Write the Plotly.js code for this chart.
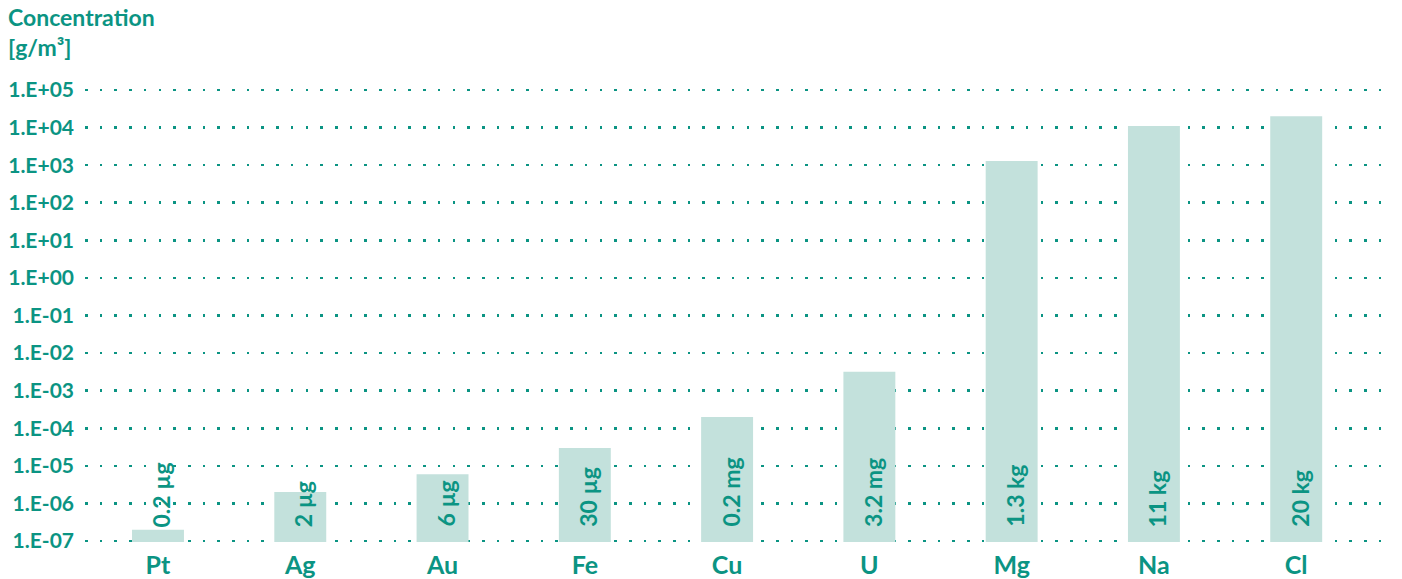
<!DOCTYPE html>
<html>
<head>
<meta charset="utf-8">
<script src="https://cdn.plot.ly/plotly-3.0.1.min.js"></script>
<style>
  html, body { margin: 0; padding: 0; background: #ffffff; }
  #chart { width: 1402px; height: 579px; }
</style>
</head>
<body>
<div id="chart"></div>
<script>
// Dissolved element concentration in seawater, grams per cubic metre
const elements = ['Pt', 'Ag', 'Au', 'Fe', 'Cu', 'U', 'Mg', 'Na', 'Cl'];
const concentrations = [2e-7, 2e-6, 6e-6, 3e-5, 2e-4, 3.2e-3, 1.3e3, 1.1e4, 2e4];
const amountLabels = ['0.2 µg', '2 µg', '6 µg', '30 µg', '0.2 mg', '3.2 mg', '1.3 kg', '11 kg', '20 kg'];

const tickValues = [1e-7, 1e-6, 1e-5, 1e-4, 1e-3, 1e-2, 1e-1, 1e0, 1e1, 1e2, 1e3, 1e4, 1e5];
const tickLabels = ['1.E-07', '1.E-06', '1.E-05', '1.E-04', '1.E-03', '1.E-02', '1.E-01',
                    '1.E+00', '1.E+01', '1.E+02', '1.E+03', '1.E+04', '1.E+05'];

const axisTitle = 'Concentration<br>[g/m³]';

const TEAL = '#0b9483';
const BAR = '#c3e1dc';
const FONT = 'Lato, "Open Sans", sans-serif';

const trace = {
  type: 'bar',
  x: elements,
  y: concentrations,
  width: 0.365,
  marker: { color: BAR, line: { width: 0 } },
  hoverinfo: 'skip'
};

// Amount labels written vertically, starting just above the baseline
const amountAnnotations = elements.map((el, i) => ({
  x: el,
  xref: 'x',
  y: 0,
  yref: 'paper',
  yanchor: 'bottom',
  xanchor: 'center',
  yshift: 13,
  xshift: 3,
  text: amountLabels[i],
  textangle: -90,
  showarrow: false,
  font: { family: FONT, size: 23, color: TEAL, weight: 700 }
}));

// Axis title sitting above the value labels in the top-left corner
const titleAnnotation = {
  text: axisTitle,
  xref: 'paper',
  x: 0,
  xanchor: 'left',
  xshift: -79,
  yref: 'paper',
  y: 1,
  yanchor: 'bottom',
  yshift: 26,
  align: 'left',
  showarrow: false,
  font: { family: FONT, size: 23, color: TEAL, weight: 700 }
};

const layout = {
  width: 1402,
  height: 579,
  margin: { l: 85, r: 19, t: 89, b: 37, pad: 0 },
  paper_bgcolor: '#ffffff',
  plot_bgcolor: 'rgba(0,0,0,0)',
  showlegend: false,
  xaxis: {
    type: 'category',
    range: [-0.513, 8.61],
    showgrid: false,
    zeroline: false,
    showline: false,
    ticks: '',
    tickfont: { family: FONT, size: 25, color: TEAL, weight: 700 },
    ticklabelstandoff: 6,
    fixedrange: true
  },
  yaxis: {
    type: 'log',
    range: [-7.027, 5.027],
    tickmode: 'array',
    tickvals: tickValues,
    ticktext: tickLabels,
    ticks: '',
    showline: false,
    zeroline: false,
    showgrid: true,
    gridcolor: TEAL,
    gridwidth: 2.6,
    griddash: '2.6px,12.1px',
    tickfont: { family: FONT, size: 21, color: TEAL, weight: 700 },
    ticklabelstandoff: 10,
    fixedrange: true
  },
  annotations: [titleAnnotation].concat(amountAnnotations)
};

Plotly.newPlot('chart', [trace], layout, { displayModeBar: false, staticPlot: true });
</script>
</body>
</html>
